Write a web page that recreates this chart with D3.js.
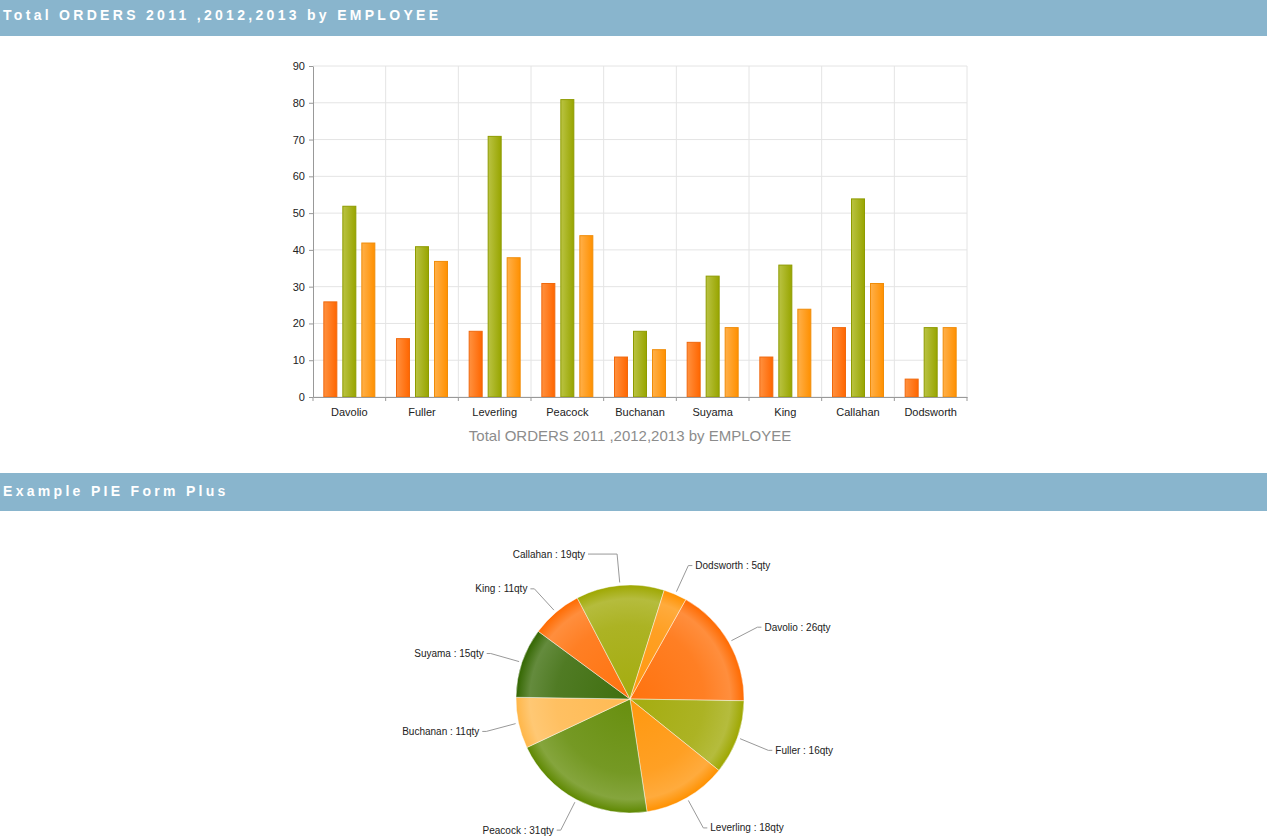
<!DOCTYPE html>
<html lang="en">
  <head>
    <meta charset="utf-8" />
    <script src="https://d3js.org/d3.v7.min.js"></script>
    <style type="text/css">
      body {
        margin: 0;
        background-color: white;
        font-family: "Liberation Sans", Arial, sans-serif;
      }
      svg#charts {
        display: block;
      }
      .head-text {
        fill: white;
        font-weight: bold;
        font-size: 14px;
        letter-spacing: 3.3px;
      }
    </style>
  </head>

  <body>
    <svg id="charts" width="1267" height="837"></svg>

    <script>
      // employees and their orders per year
      let employees = ["Davolio", "Fuller", "Leverling", "Peacock", "Buchanan", "Suyama", "King", "Callahan", "Dodsworth"];
      let years = ["2011", "2012", "2013"];
      let orders2011 = [26, 16, 18, 31, 11, 15, 11, 19, 5];
      let orders2012 = [52, 41, 71, 81, 18, 33, 36, 54, 19];
      let orders2013 = [42, 37, 38, 44, 13, 19, 24, 31, 19];
      let yTicks = [0, 10, 20, 30, 40, 50, 60, 70, 80, 90];

      let barTitle = "Total ORDERS 2011 ,2012,2013 by EMPLOYEE";
      let pieTitle = "Example PIE Form Plus";

      let svg = d3.select("#charts");
      let defs = svg.append("defs");

      // header bars
      function header(y0, h, text, base) {
        svg.append("rect").attr("x", 0).attr("y", y0).attr("width", 1267).attr("height", h).attr("fill", "#89b5cd");
        svg.append("text").attr("class", "head-text").attr("x", 3).attr("y", base).text(text);
      }
      header(0, 36, barTitle, 20);
      header(473, 38, pieTitle, 496);

      // ---------- bar chart ----------
      let plotLeft = 313, plotRight = 967, plotTop = 66, plotBottom = 397;

      let x = d3.scaleBand().domain(employees).range([plotLeft, plotRight]);
      let xs = d3.scaleBand().domain(years).range([0, x.bandwidth()]).paddingInner(0.263).paddingOuter(0.544);
      let y = d3.scaleLinear().domain([0, 90]).range([plotBottom, plotTop]);

      let series = [
        { year: "2011", values: orders2011, light: "#ff913f", dark: "#ff6600", stroke: "#f0680c" },
        { year: "2012", values: orders2012, light: "#bac343", dark: "#98a500", stroke: "#8e9b00" },
        { year: "2013", values: orders2013, light: "#ffb04a", dark: "#ff9000", stroke: "#f08c08" },
      ];

      series.forEach(function (s, i) {
        let g = defs.append("linearGradient").attr("id", "bar" + i).attr("x1", 0).attr("x2", 1).attr("y1", 0).attr("y2", 0);
        g.append("stop").attr("offset", "0%").attr("stop-color", s.light);
        g.append("stop").attr("offset", "100%").attr("stop-color", s.dark);
      });

      let grid = svg.append("g").attr("stroke", "#e4e4e4").attr("stroke-width", 1);
      yTicks.forEach(function (t) {
        grid.append("line").attr("x1", plotLeft).attr("x2", plotRight).attr("y1", y(t)).attr("y2", y(t));
      });
      employees.forEach(function (e) {
        grid.append("line").attr("x1", x(e) + x.bandwidth()).attr("x2", x(e) + x.bandwidth()).attr("y1", plotTop).attr("y2", plotBottom);
      });

      let bars = svg.append("g");
      series.forEach(function (s, i) {
        bars
          .selectAll(".b" + i)
          .data(s.values)
          .enter()
          .append("rect")
          .attr("class", "b" + i)
          .attr("x", function (d, j) { return x(employees[j]) + xs(s.year) + 0.5; })
          .attr("y", function (d) { return y(d) + 0.5; })
          .attr("width", xs.bandwidth() - 1)
          .attr("height", function (d) { return plotBottom - y(d) - 0.5; })
          .attr("fill", "url(#bar" + i + ")")
          .attr("stroke", s.stroke)
          .attr("stroke-width", 1);
      });

      // y axis
      let yAxis = svg
        .append("g")
        .attr("transform", "translate(" + plotLeft + ",0)")
        .call(d3.axisLeft(y).tickValues(yTicks).tickSize(4).tickSizeOuter(0));
      yAxis.select(".domain").attr("stroke", "#999");
      yAxis.selectAll(".tick line").attr("stroke", "#999");
      yAxis.selectAll("text").attr("font-size", "11px").attr("fill", "#222").attr("font-family", "Liberation Sans, Arial, sans-serif").attr("dx", "-0.1em");

      // x axis
      let xAxis = svg
        .append("g")
        .attr("transform", "translate(0," + plotBottom + ")")
        .call(d3.axisBottom(x).tickSize(0).tickSizeOuter(0));
      xAxis.select(".domain").attr("stroke", "#999");
      xAxis.selectAll("text").attr("font-size", "11px").attr("fill", "#222").attr("font-family", "Liberation Sans, Arial, sans-serif").attr("dy", "1.45em");
      employees.forEach(function (e) {
        xAxis.append("line").attr("x1", x(e)).attr("x2", x(e)).attr("y1", 0).attr("y2", 4).attr("stroke", "#999");
      });
      xAxis.append("line").attr("x1", plotRight).attr("x2", plotRight).attr("y1", 0).attr("y2", 4).attr("stroke", "#999");

      svg
        .append("text")
        .attr("x", 630)
        .attr("y", 441)
        .attr("text-anchor", "middle")
        .attr("font-size", "15px")
        .attr("fill", "#8c8c8c")
        .text(barTitle);

      // ---------- pie chart ----------
      let cx = 630, cy = 699, radius = 114;
      let pieColors = ["#ff6a00", "#9ea700", "#ff9100", "#5e8800", "#ffb648", "#336600"];

      // gradients live in the pie group's coordinates, centred on 0,0
      pieColors.forEach(function (c, i) {
        let g = defs
          .append("radialGradient")
          .attr("id", "pie" + i)
          .attr("gradientUnits", "userSpaceOnUse")
          .attr("cx", 0).attr("cy", 0).attr("r", radius);
        let light = d3.interpolateRgb(c, "#ffffff");
        g.append("stop").attr("offset", "0%").attr("stop-color", light(0.06));
        g.append("stop").attr("offset", "65%").attr("stop-color", light(0.14));
        g.append("stop").attr("offset", "88%").attr("stop-color", light(0.24));
        g.append("stop").attr("offset", "100%").attr("stop-color", c);
      });

      let start = (29.3 * Math.PI) / 180;
      let pie = d3.pie().sort(null).startAngle(start).endAngle(start + 2 * Math.PI);
      let arcs = pie(orders2011);
      let arc = d3.arc().innerRadius(0).outerRadius(radius);

      let pieG = svg.append("g").attr("transform", "translate(" + cx + "," + cy + ")");
      pieG
        .selectAll("path")
        .data(arcs)
        .enter()
        .append("path")
        .attr("d", arc)
        .attr("fill", function (d, i) { return "url(#pie" + (i % pieColors.length) + ")"; })
        .attr("stroke", "rgba(255,255,255,0.55)")
        .attr("stroke-width", 0.8);

      // leader lines and labels
      let labels = svg.append("g");
      arcs.forEach(function (d, i) {
        let a = (d.startAngle + d.endAngle) / 2;
        let sx = cx + 117 * Math.sin(a), sy = cy - 117 * Math.cos(a);
        let ex = cx + 147 * Math.sin(a), ey = cy - 147 * Math.cos(a) + 1.5;
        let side = Math.sin(a) >= 0 ? 1 : -1;
        let hx = ex + side * 4;
        if (Math.abs(hx - cx) < 42) hx = cx + side * 42;
        labels
          .append("polyline")
          .attr("points", [[sx, sy], [ex, ey], [hx, ey]].map(function (p) { return p.join(","); }).join(" "))
          .attr("fill", "none")
          .attr("stroke", "#999")
          .attr("stroke-width", 1);
        labels
          .append("text")
          .attr("x", hx + side * 3)
          .attr("y", ey + 3.5)
          .attr("text-anchor", side > 0 ? "start" : "end")
          .attr("font-size", "10px")
          .attr("fill", "#222")
          .text(employees[i] + " : " + d.data + "qty");
      });
    </script>
  </body>
</html>
